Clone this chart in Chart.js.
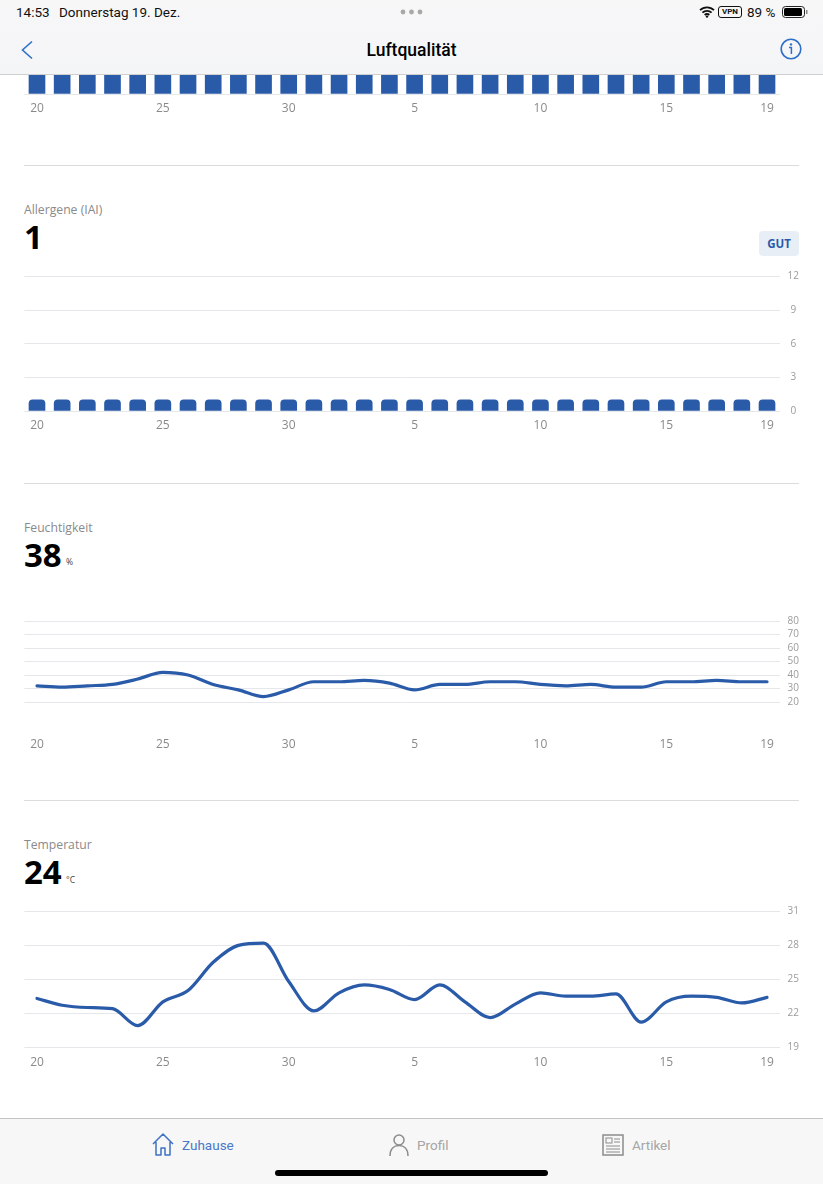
<!DOCTYPE html>
<html lang="de">
<head>
<meta charset="utf-8">
<title>Luftqualität</title>
<script src="https://cdn.jsdelivr.net/npm/chart.js@4/dist/chart.umd.min.js"></script>
<style>
  html, body { margin: 0; padding: 0; background: #fff; }
  body { width: 823px; height: 1184px; position: relative; overflow: hidden; font-family: "Open Sans", sans-serif; }
  .abs { position: absolute; white-space: nowrap; line-height: 1; }
  .box { position: absolute; left: 0; width: 823px; }
  #header { position: absolute; left: 0; top: 0; width: 823px; height: 74px; z-index: 5; background: linear-gradient(#f7f7f8, #f4f5f7); border-bottom: 1px solid #cfcfcf; }
  #footer { position: absolute; left: 0; top: 1118px; width: 823px; height: 66px; z-index: 5; background: #f7f7f7; border-top: 1px solid #c4c4c4; }
  .status { font-family: Roboto, sans-serif; font-size: 13.5px; color: #111; }
  .divider { position: absolute; left: 24px; width: 775px; height: 1px; background: #dcdcdc; }
  .name { font-size: 12.2px; color: #8a8a8a; left: 24px; }
  .value { font-size: 33px; font-weight: 700; color: #000; left: 24px; }
  .unit { font-size: 8.5px; color: #444; }
  .tab { font-family: Roboto, sans-serif; font-size: 13.5px; }
</style>
</head>
<body>

<div id="header">
  <div class="abs status" style="left:16px;top:6px">14:53</div>
  <div class="abs status" style="left:59px;top:6px">Donnerstag 19. Dez.</div>
  <svg class="abs" style="left:400px;top:9px" width="23" height="6"><circle cx="3" cy="3" r="2.4" fill="#a8a8a8"/><circle cx="11.5" cy="3" r="2.4" fill="#a8a8a8"/><circle cx="20" cy="3" r="2.4" fill="#a8a8a8"/></svg>
  <svg class="abs" style="left:699px;top:6px" width="16" height="12" viewBox="0 0 16 12"><path d="M1 4.2a10 10 0 0 1 14 0M3.4 6.7a6.6 6.6 0 0 1 9.2 0M5.7 9a3.2 3.2 0 0 1 4.6 0" fill="none" stroke="#111" stroke-width="1.8"/><circle cx="8" cy="10.6" r="1.2" fill="#111"/></svg>
  <div class="abs" style="left:718px;top:6px;width:22px;height:10px;border:1px solid #111;border-radius:3px;font:700 8px Roboto,sans-serif;color:#111;text-align:center;line-height:10px">VPN</div>
  <div class="abs status" style="left:747px;top:6px">89 %</div>
  <svg class="abs" style="left:782px;top:6px" width="26" height="12"><rect x="0.5" y="0.5" width="22" height="11" rx="3" fill="none" stroke="#222"/><rect x="2" y="2" width="18" height="8" rx="1.5" fill="#000"/><rect x="24" y="4" width="1.5" height="4" fill="#888"/></svg>
  <svg class="abs" style="left:20px;top:40px" width="14" height="20"><path d="M12 1.5L2.5 10l9.5 8.5" fill="none" stroke="#2f6fc9" stroke-width="1.6"/></svg>
  <div class="abs" style="left:0;top:40px;width:823px;text-align:center;font:500 17.5px Roboto,sans-serif;color:#000">Luftqualität</div>
  <svg class="abs" style="left:780px;top:38px" width="22" height="22"><circle cx="11" cy="11" r="9.8" fill="none" stroke="#2f6fc9" stroke-width="1.6"/><circle cx="11" cy="6.4" r="1.2" fill="#2f6fc9"/><path d="M9 9.5h2.4v6.5" fill="none" stroke="#2f6fc9" stroke-width="1.5"/></svg>
</div>

<div class="box" id="boxStaub"><canvas id="chartStaub"></canvas></div>
<div class="divider" style="top:165px"></div>

<div class="abs name" style="top:204px">Allergene (IAI)</div>
<div class="abs value" style="top:220px">1</div>
<div class="abs" style="left:759px;top:231px;width:40px;height:25px;background:#e8eef6;border-radius:4px;font:700 11.5px 'Open Sans',sans-serif;color:#2a5aa8;text-align:center;line-height:25px">GUT</div>
<div class="box" id="boxAllergene"><canvas id="chartAllergene"></canvas></div>
<div class="divider" style="top:483px"></div>

<div class="abs name" style="top:522px">Feuchtigkeit</div>
<div class="abs value" style="top:538px">38</div>
<div class="abs unit" style="left:66px;top:558px">%</div>
<div class="box" id="boxFeuchte"><canvas id="chartFeuchte"></canvas></div>
<div class="divider" style="top:800px"></div>

<div class="abs name" style="top:839px">Temperatur</div>
<div class="abs value" style="top:855px">24</div>
<div class="abs unit" style="left:66px;top:876px">°C</div>
<div class="box" id="boxTemp"><canvas id="chartTemp"></canvas></div>

<div id="footer">
  <svg class="abs" style="left:152px;top:13px" width="22" height="25" viewBox="0 0 22 25"><path d="M1 12L11 2l10 10M4 10v13h5v-7h4v7h5V10" fill="none" stroke="#3f72c4" stroke-width="1.5" stroke-linejoin="round"/></svg>
  <div class="abs tab" style="left:182px;top:20px;color:#4a78c8">Zuhause</div>
  <svg class="abs" style="left:388px;top:14px" width="22" height="24" viewBox="0 0 22 24"><circle cx="11" cy="7" r="5" fill="none" stroke="#8c8c8c" stroke-width="1.5"/><path d="M2 23c0-7 4-10.500 9-10.500s9 3.500 9 10.500" fill="none" stroke="#8c8c8c" stroke-width="1.5"/></svg>
  <div class="abs tab" style="left:417px;top:20px;color:#a5a5a5">Profil</div>
  <svg class="abs" style="left:602px;top:15px" width="22" height="22" viewBox="0 0 22 22"><rect x="1" y="1" width="20" height="20" fill="none" stroke="#8c8c8c" stroke-width="1.5"/><rect x="4" y="4" width="6" height="5" fill="none" stroke="#8c8c8c"/><path d="M12 5h6M12 8h6M4 12h14M4 15h14M4 18h14" stroke="#8c8c8c"/></svg>
  <div class="abs tab" style="left:632px;top:20px;color:#a5a5a5">Artikel</div>
  <div class="abs" style="left:275px;top:51px;width:273px;height:6px;background:#000;border-radius:3px"></div>
</div>

<script>
// Tage auf der x-Achse
var days = ['20','21','22','23','24','25','26','27','28','29','30','1','2','3','4','5','6','7','8','9','10','11','12','13','14','15','16','17','18','19'];
var shownDays = ['20','25','30','5','10','15','19'];

// Werte
var staub = [3,3,3,3,3,3,3,3,3,3,3,3,3,3,3,3,3,3,3,3,3,3,3,3,3,3,3,3,3,3];
var allergene = [1,1,1,1,1,1,1,1,1,1,1,1,1,1,1,1,1,1,1,1,1,1,1,1,1,1,1,1,1,1];
var feuchte = [32,31,32,33,37,42,40,33,29,24,29,35,35,36,34,29,33,33,35,35,33,32,33,31,31,35,35,36,35,35];
var temperatur = [23.3,22.7,22.5,22.4,20.9,23.0,24.0,26.5,28.0,28.2,24.8,22.2,23.8,24.5,24.1,23.2,24.5,23.0,21.6,22.8,23.8,23.5,23.5,23.7,21.2,23.0,23.5,23.4,22.9,23.4];

var blue = '#2a5ba9';

// Chart.js adds the tick padding to the scale margins, drop it so the plot area stays put
function noMargins(s) {
    s.paddingTop = 0;
    s.paddingBottom = 0;
    s.paddingLeft = 0;
    s.paddingRight = 0;
}

function drawChart(id, type, values, yMin, yMax, yStep, plotTop, plotBottom, xPad, showY) {
    var canvasTop = Math.floor(plotTop) - 10;
    var canvasHeight = Math.ceil(plotBottom) - canvasTop + xPad + 18;
    var box = document.getElementById('box' + id);
    box.style.top = canvasTop + 'px';
    box.style.height = canvasHeight + 'px';

    var dataset = { data: values };
    if (type === 'bar') {
        dataset.backgroundColor = blue;
        dataset.barThickness = 16;
        dataset.borderRadius = { topLeft: 4, topRight: 4, bottomLeft: 0, bottomRight: 0 };
    } else {
        dataset.borderColor = blue;
        dataset.borderWidth = 3.2;
        dataset.pointRadius = 0;
        dataset.cubicInterpolationMode = 'monotone';
        dataset.borderCapStyle = 'round';
    }

    new Chart(document.getElementById('chart' + id).getContext('2d'), {
        type: type,
        data: { labels: days, datasets: [dataset] },
        options: {
            responsive: true,
            maintainAspectRatio: false,
            animation: false,
            plugins: { legend: { display: false }, tooltip: { enabled: false } },
            layout: { padding: { left: 24.4, top: plotTop - canvasTop, right: 0, bottom: 0 } },
            scales: {
                x: {
                    offset: true,
                    grid: { display: false, drawTicks: false },
                    border: { display: false },
                    ticks: {
                        autoSkip: false,
                        maxRotation: 0,
                        padding: xPad,
                        color: '#8a8a8a',
                        font: { family: 'Open Sans', size: 12 },
                        callback: function (v) {
                            var d = days[v];
                            return shownDays.indexOf(d) >= 0 ? d : '';
                        }
                    },
                    afterFit: function (s) {
                        s.height = canvasTop + canvasHeight - plotBottom;
                        noMargins(s);
                    }
                },
                y: {
                    position: 'right',
                    min: yMin,
                    max: yMax,
                    grid: { color: '#e5e7ea', lineWidth: 1, drawTicks: false },
                    border: { display: false },
                    ticks: {
                        display: showY,
                        autoSkip: false,
                        stepSize: yStep,
                        padding: 8,
                        crossAlign: 'center',
                        color: '#9c9c9c',
                        font: { family: 'Open Sans', size: 10 }
                    },
                    afterFit: function (s) {
                        s.width = 43.4;
                        noMargins(s);
                    }
                }
            }
        }
    });
}

drawChart('Staub', 'bar', staub, 0, 12, 3, -40.5, 94, 7, false);
drawChart('Allergene', 'bar', allergene, 0, 12, 3, 276.5, 411, 7, true);
drawChart('Feuchte', 'line', feuchte, 20, 80, 10, 621, 702, 35, true);
drawChart('Temp', 'line', temperatur, 19, 31, 3, 911.5, 1047, 8, true);
</script>
</body>
</html>
